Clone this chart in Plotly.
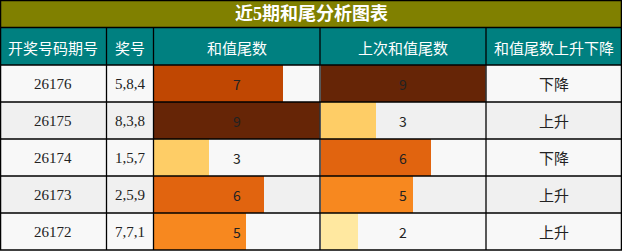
import plotly.graph_objects as go

W, H = 622, 251

title = "近5期和尾分析图表"
headers = ["开奖号码期号", "奖号", "和值尾数", "上次和值尾数", "和值尾数上升下降"]
periods = ["26176", "26175", "26174", "26173", "26172"]
numbers = ["5,8,4", "8,3,8", "1,5,7", "2,5,9", "7,7,1"]
tail = [7, 9, 3, 6, 5]
prev_tail = [9, 3, 6, 5, 2]
trend = ["下降", "上升", "下降", "上升", "上升"]

# layout in pixels
col_x = [0, 106.5, 153.5, 320, 486, 622]
title_h = 27.5
row_top = 65
row_h = 37

val_colors = {0: "#fff7d0", 1: "#fff2b0", 2: "#ffe8a0", 3: "#fecd66", 4: "#fdb443",
              5: "#f7881f", 6: "#e1640f", 7: "#c04702", 8: "#8f3104", 9: "#662506"}

serif = "Liberation Serif, Noto Sans CJK SC, serif"
sans = "Noto Sans CJK SC, DejaVu Sans, sans-serif"

fig = go.Figure()

# invisible trace to establish main axes
fig.add_trace(go.Scatter(x=[0, W], y=[0, H], mode="markers", marker=dict(opacity=0),
                         hoverinfo="skip", showlegend=False, xaxis="x", yaxis="y"))

shapes = []
shapes.append(dict(type="rect", xref="x", yref="y", x0=0, x1=W, y0=0, y1=title_h,
                   fillcolor="#808000", line_width=0, layer="below"))
shapes.append(dict(type="rect", xref="x", yref="y", x0=0, x1=W, y0=title_h, y1=row_top,
                   fillcolor="#008080", line_width=0, layer="below"))
for i in range(len(periods)):
    y0 = row_top + i * row_h
    shapes.append(dict(type="rect", xref="x", yref="y", x0=0, x1=W, y0=y0, y1=y0 + row_h,
                       fillcolor="#f8f8f8" if i % 2 == 0 else "#f0f0f0",
                       line_width=0, layer="below"))

ylabels = [f"r{i}" for i in range(len(periods))]
for vals, xa in ((tail, "x2"), (prev_tail, "x3")):
    fig.add_trace(go.Bar(
        x=vals, y=ylabels, orientation="h", width=1.0,
        marker=dict(color=[val_colors[v] for v in vals], line=dict(width=0)),
        xaxis=xa, yaxis="y2", showlegend=False, hoverinfo="skip"))

line_kw = dict(color="#000000", width=1.3)
ys = [0.6, title_h, row_top] + [row_top + (i + 1) * row_h for i in range(len(periods))]
ys[-1] = min(ys[-1], H - 1)
for y in ys:
    shapes.append(dict(type="line", xref="x", yref="y", x0=0, x1=W, y0=y, y1=y,
                       line=line_kw, layer="above"))
for j, x in enumerate(col_x):
    xx = min(max(x, 0.6), W - 0.6)
    ytop = 0 if j in (0, len(col_x) - 1) else title_h
    shapes.append(dict(type="line", xref="x", yref="y", x0=xx, x1=xx, y0=ytop, y1=ys[-1],
                       line=line_kw, layer="above"))

ann = []
ann.append(dict(x=W / 2, y=title_h / 2 + 0.5, xref="x", yref="y", text=f"<b>{title}</b>",
                showarrow=False, font=dict(family=serif, size=18, color="#ffffff")))
for j, h in enumerate(headers):
    cx = (col_x[j] + col_x[j + 1]) / 2
    ann.append(dict(x=cx, y=(title_h + row_top) / 2 + 1, xref="x", yref="y", text=h,
                    showarrow=False, font=dict(family=sans, size=15, color="#ffffff")))
for i in range(len(periods)):
    cy = row_top + i * row_h + row_h / 2
    cells = [periods[i], numbers[i], str(tail[i]), str(prev_tail[i]), trend[i]]
    for j, t in enumerate(cells):
        cx = (col_x[j] + col_x[j + 1]) / 2
        fam = serif if j < 2 else sans
        size = 15 if j in (0, 1, 4) else 14
        ann.append(dict(x=cx, y=cy, xref="x", yref="y", text=t, showarrow=False,
                        font=dict(family=fam, size=size, color="#222222")))

rows_dom = [1 - (row_top + row_h * len(periods)) / H, 1 - row_top / H]
fig.update_layout(
    width=W, height=H, margin=dict(l=0, r=0, t=0, b=0),
    paper_bgcolor="#ffffff", plot_bgcolor="rgba(0,0,0,0)",
    bargap=0,
    xaxis=dict(range=[0, W], domain=[0, 1], visible=False, fixedrange=True),
    yaxis=dict(range=[H, 0], domain=[0, 1], visible=False, fixedrange=True),
    xaxis2=dict(range=[0, 9], domain=[(col_x[2] + 0.5) / W, (col_x[3] - 0.5) / W],
                visible=False, anchor="y2"),
    xaxis3=dict(range=[0, 9], domain=[(col_x[3] + 0.5) / W, (col_x[4] - 0.5) / W],
                visible=False, anchor="y2"),
    yaxis2=dict(domain=rows_dom, type="category", categoryorder="array",
                categoryarray=ylabels, autorange="reversed", visible=False, anchor="x2"),
    shapes=shapes, annotations=ann,
)
fig.write_html("out.html")
